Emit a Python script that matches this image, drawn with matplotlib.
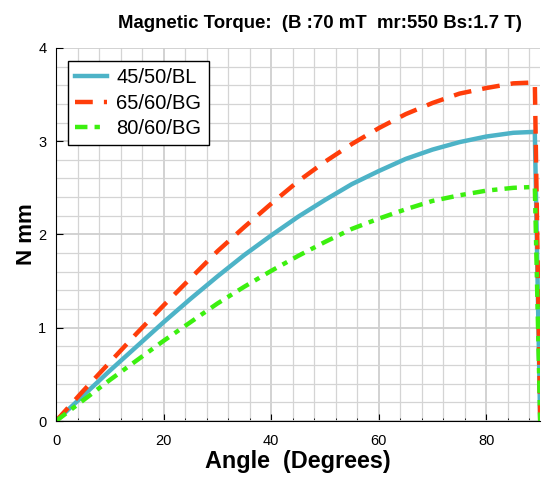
import matplotlib
matplotlib.use("Agg")
import matplotlib.pyplot as plt
from matplotlib.ticker import MultipleLocator

plt.rcParams["font.family"] = ["Liberation Sans", "DejaVu Sans"]

# angle (degrees) and torque (N mm)
angle = [0, 5, 10, 15, 20, 25, 30, 35, 40, 45, 50, 55, 60, 65, 70, 75, 80, 85, 89, 90]
torque_45_50_bl = [0, 0.27, 0.54, 0.80, 1.06, 1.31, 1.55, 1.78, 1.99, 2.19, 2.37,
                   2.54, 2.68, 2.81, 2.91, 2.99, 3.05, 3.09, 3.10, 0]
torque_65_60_bg = [0, 0.32, 0.63, 0.94, 1.24, 1.53, 1.82, 2.08, 2.33, 2.57, 2.78,
                   2.97, 3.14, 3.29, 3.41, 3.51, 3.57, 3.62, 3.63, 0]
torque_80_60_bg = [0, 0.22, 0.44, 0.65, 0.86, 1.06, 1.26, 1.44, 1.61, 1.77, 1.92,
                   2.06, 2.17, 2.27, 2.36, 2.42, 2.47, 2.50, 2.51, 0]
labels = ["45/50/BL", "65/60/BG", "80/60/BG"]

fig = plt.figure(figsize=(5.44, 4.79), dpi=100)
ax = fig.add_axes([0.103, 0.121, 0.890, 0.779])

lw = 3.2
ax.plot(angle, torque_45_50_bl, color="#4db3c7", lw=lw, label=labels[0])
ax.plot(angle, torque_65_60_bg, color="#ff3d0a", lw=lw, dashes=(4, 2.5), label=labels[1])
ax.plot(angle, torque_80_60_bg, color="#3cf00f", lw=lw, dashes=(2.8, 1.6, 1.2, 1.6), label=labels[2])

ax.set_xlim(0, 90)
ax.set_ylim(0, 4)
ax.xaxis.set_major_locator(MultipleLocator(20))
ax.xaxis.set_minor_locator(MultipleLocator(4))
ax.yaxis.set_major_locator(MultipleLocator(1))
ax.yaxis.set_minor_locator(MultipleLocator(0.2))
ax.grid(which="major", color="#cfcfcf", lw=1.3)
ax.grid(which="minor", color="#d4d4d4", lw=0.9)
ax.set_axisbelow(True)
ax.tick_params(which="both", direction="in", labelsize=10.5)
ax.tick_params(which="major", length=5)
ax.tick_params(axis="x", which="major", pad=9)
ax.tick_params(axis="y", which="major", pad=7)
ax.tick_params(which="minor", length=2.5)
ax.tick_params(axis="y", which="minor", length=0)
for s in ("top", "right"):
    ax.spines[s].set_visible(False)

ax.set_title("Magnetic Torque:  (B :70 mT  mr:550 Bs:1.7 T)", x=0.545,
             fontsize=13.4, fontweight="bold", pad=14)
ax.set_xlabel("Angle  (Degrees)", fontsize=16.8, fontweight="bold", labelpad=2)
ax.set_ylabel("N mm", fontsize=16, fontweight="bold", labelpad=1)

leg = ax.legend(loc="upper left", bbox_to_anchor=(0.025, 0.965), fontsize=14.5,
                fancybox=False, framealpha=1, edgecolor="black",
                handlelength=1.6, borderpad=0.35, labelspacing=0.33,
                handletextpad=0.45, borderaxespad=0)
leg.get_frame().set_linewidth(1.0)

fig.savefig("out.png", dpi=100)
